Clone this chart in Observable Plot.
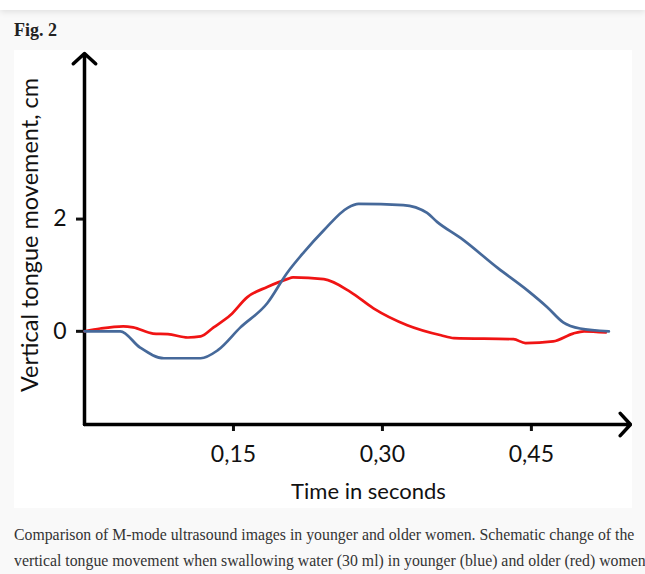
<!DOCTYPE html>
<html><head><meta charset="utf-8">
<script src="https://cdn.jsdelivr.net/npm/d3@7"></script>
<script src="https://cdn.jsdelivr.net/npm/@observablehq/plot@0.6"></script>
<style>
html,body{margin:0;padding:0;}
body{background:#f9f9f9;width:645px;height:574px;overflow:hidden;position:relative;font-family:"Liberation Serif",serif;}
#topbar{position:absolute;left:0;top:0;width:645px;height:10px;background:#fff;box-shadow:0 2px 6px rgba(0,0,0,0.10);}
#fig{position:absolute;left:14px;top:20px;font-weight:bold;font-size:18px;color:#222;}
#chart{position:absolute;left:14px;top:50px;width:618px;height:458px;background:#fff;}
#cap{position:absolute;left:14px;top:522px;font-size:15.8px;color:#333;line-height:26px;white-space:nowrap;width:631px;overflow:hidden;}
</style></head><body>
<div id="topbar"></div>
<div id="fig">Fig. 2</div>
<div id="chart"></div>
<div id="cap">Comparison of M-mode ultrasound images in younger and older women. Schematic change of the<br>vertical tongue movement when swallowing water (30 ml) in younger (blue) and older (red) women</div>
<script>
// Younger women (blue)
const timeYounger = [0, 0.036, 0.056, 0.080, 0.117, 0.134, 0.157, 0.184, 0.204, 0.221, 0.241, 0.265, 0.276, 0.321, 0.345, 0.355, 0.379, 0.416, 0.446, 0.466, 0.482, 0.499, 0.528];
const younger     = [0, 0, -0.29, -0.48, -0.48, -0.34, 0.07, 0.50, 1.04, 1.41, 1.80, 2.20, 2.27, 2.25, 2.11, 1.95, 1.66, 1.13, 0.73, 0.43, 0.16, 0.05, 0];
// Older women (red)
const timeOlder = [0, 0.016, 0.039, 0.049, 0.069, 0.084, 0.104, 0.117, 0.130, 0.147, 0.164, 0.184, 0.204, 0.210, 0.241, 0.268, 0.291, 0.325, 0.359, 0.372, 0.432, 0.444, 0.472, 0.492, 0.503, 0.525];
const older     = [0, 0.05, 0.09, 0.07, -0.04, -0.05, -0.11, -0.09, 0.07, 0.29, 0.61, 0.79, 0.93, 0.96, 0.93, 0.70, 0.41, 0.11, -0.07, -0.12, -0.14, -0.21, -0.18, -0.04, 0, -0.02];
const xTicks = [0.15, 0.30, 0.45];
const yTicks = [0, 2];
const xLabel = "Time in seconds";
const yLabel = "Vertical tongue movement, cm";
const xDomain = [0, 0.5498];
const yDomain = [-1.66, 4.95];

const youngData = timeYounger.map((t, i) => ({t, v: younger[i]}));
const oldData = timeOlder.map((t, i) => ({t, v: older[i]}));
const font = "Lato, 'Open Sans', sans-serif";

const chart = Plot.plot({
  width: 618, height: 458,
  marginLeft: 70, marginRight: 2, marginTop: 3, marginBottom: 84,
  x: {domain: xDomain},
  y: {domain: yDomain},
  style: {fontFamily: font, background: "transparent", color: "#111"},
  marks: [
    Plot.axisX({ticks: xTicks, tickFormat: d => d.toFixed(2).replace(".", ","), tickSize: 7, tickPadding: 14, strokeWidth: 3, fontSize: 23, label: null}),
    Plot.axisY({ticks: yTicks, tickFormat: d => String(d), tickSize: 8, tickPadding: 10, strokeWidth: 3, fontSize: 23, label: null}),
    Plot.arrow([0], {x1: () => xDomain[0], y1: () => yDomain[0], x2: () => xDomain[1], y2: () => yDomain[0], stroke: "#000", strokeWidth: 3.5, headLength: 6.5, headAngle: 95}),
    Plot.arrow([0], {x1: () => xDomain[0], y1: () => yDomain[0], x2: () => xDomain[0], y2: () => yDomain[1], stroke: "#000", strokeWidth: 3.5, headLength: 6.5, headAngle: 95}),
    Plot.line(oldData, {x: "t", y: "v", stroke: "#f01414", strokeWidth: 2.7, curve: "monotone-x"}),
    Plot.line(youngData, {x: "t", y: "v", stroke: "#46699a", strokeWidth: 2.7, curve: "monotone-x"}),
    Plot.text([yLabel], {frameAnchor: "left", textAnchor: "middle", rotate: -90, dx: -54, dy: -4, fontSize: 23.5, fill: "#111"}),
    Plot.text([xLabel], {frameAnchor: "bottom", textAnchor: "middle", dx: 11, dy: 74, fontSize: 22, fill: "#111"})
  ]
});
document.getElementById("chart").appendChild(chart);
</script>
</body></html>
